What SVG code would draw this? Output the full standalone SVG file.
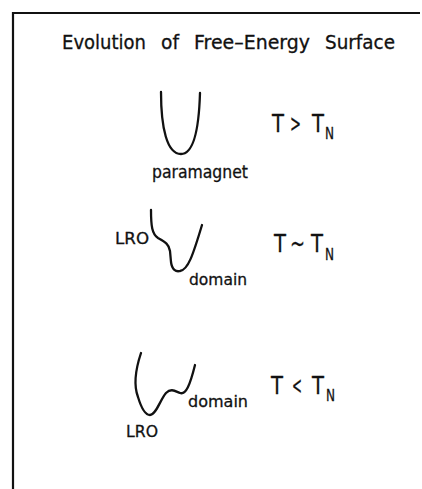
<svg xmlns="http://www.w3.org/2000/svg" width="422" height="489" viewBox="0 0 422 489">
<style>
text{font-family:"DejaVu Sans","Liberation Sans",sans-serif;fill:#111;stroke:#111;stroke-width:0.3}
.h{font-size:19px}
.t{font-size:25px}
.n{font-size:16px}
.s{font-size:16px}
.l{font-size:17px}
.c{fill:none;stroke:#111;stroke-width:2.3;stroke-linecap:round;stroke-linejoin:round}
</style>
<rect width="422" height="489" fill="#fff"/>
<g id="frame"><path d="M13,489 L13,13 L420,13" fill="none" stroke="#111" stroke-width="2.2"/></g>
<g id="title">
<text class="h" x="62" y="49" textLength="84" lengthAdjust="spacingAndGlyphs">Evolution</text>
<text class="h" x="161" y="49" textLength="18" lengthAdjust="spacingAndGlyphs">of</text>
<text class="h" x="194" y="49" textLength="116" lengthAdjust="spacingAndGlyphs">Free–Energy</text>
<text class="h" x="325" y="49" textLength="70" lengthAdjust="spacingAndGlyphs">Surface</text>
</g>
<g id="state1">
<path class="c" d="M161,92 C161,128 167,154 181,154 C194,154 199,126 200,93"/>
<text class="l" x="152" y="178" textLength="96" lengthAdjust="spacingAndGlyphs">paramagnet</text>
<text class="t" x="272" y="132" textLength="12" lengthAdjust="spacingAndGlyphs">T</text>
<text class="t" x="290" y="132" textLength="11" lengthAdjust="spacingAndGlyphs">&gt;</text>
<text class="t" x="312" y="132" textLength="12" lengthAdjust="spacingAndGlyphs">T</text>
<text class="n" x="325" y="139" textLength="9" lengthAdjust="spacingAndGlyphs">N</text>
</g>
<g id="state2">
<path class="c" d="M151,210 C151,226 152,234 158,238 C165,242 169,244 170,251 L171,262 C172,270 176,272 180,271 C188,270 193,255 202,225"/>
<text class="s" x="115" y="244" textLength="34" lengthAdjust="spacingAndGlyphs">LRO</text>
<text class="s" x="189" y="285" textLength="58" lengthAdjust="spacingAndGlyphs">domain</text>
<text class="t" x="274" y="252" textLength="12" lengthAdjust="spacingAndGlyphs">T</text>
<text class="t" x="290" y="252" textLength="15" lengthAdjust="spacingAndGlyphs">~</text>
<text class="t" x="311" y="252" textLength="12" lengthAdjust="spacingAndGlyphs">T</text>
<text class="n" x="325" y="260" textLength="9" lengthAdjust="spacingAndGlyphs">N</text>
</g>
<g id="state3">
<path class="c" d="M141,353 C136,368 133,384 138,397 C141,407 145,415 150,415 C156,415 160,400 166,393 C171,388 175,391 180,393 C186,395 190,385 195,365"/>
<text class="s" x="188" y="407" textLength="60" lengthAdjust="spacingAndGlyphs">domain</text>
<text class="s" x="126" y="437" textLength="32" lengthAdjust="spacingAndGlyphs">LRO</text>
<text class="t" x="271" y="394" textLength="12" lengthAdjust="spacingAndGlyphs">T</text>
<text class="t" x="292" y="394" textLength="10" lengthAdjust="spacingAndGlyphs">&lt;</text>
<text class="t" x="312" y="394" textLength="12" lengthAdjust="spacingAndGlyphs">T</text>
<text class="n" x="326" y="401" textLength="9" lengthAdjust="spacingAndGlyphs">N</text>
</g>
</svg>
